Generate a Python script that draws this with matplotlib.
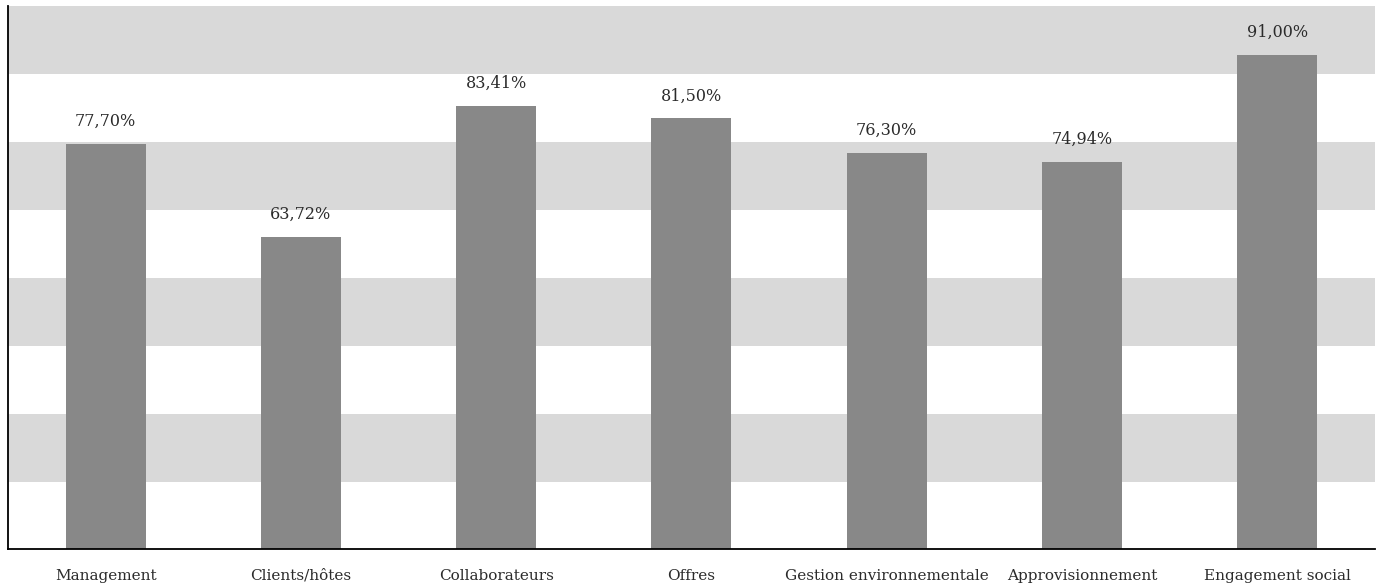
import numpy as np
import matplotlib.pyplot as plt

# scores per axis
categories = ["Management", "Clients/hôtes", "Collaborateurs", "Offres",
              "Gestion environnementale", "Approvisionnement", "Engagement social"]
scores = [77.70, 63.72, 83.41, 81.50, 76.30, 74.94, 91.00]

ymin, ymax = 16.9, 98.35
bar_color = "#888888"
band_color = "#d9d9d9"
text_color = "#2b2b2b"

plt.rcParams['font.family'] = ['DejaVu Serif']

fig = plt.figure(figsize=(13.79, 5.86), dpi=100)
ax = fig.add_axes([0.0058, 0.0623, 0.9912, 0.9275])

# alternating horizontal bands, grey on top
edges = np.linspace(ymin, ymax, 9)
for i in range(8):
    if i % 2 == 1:
        ax.axhspan(edges[i], edges[i + 1], color=band_color, lw=0, zorder=0)

x = np.arange(len(categories))
bars = ax.bar(x, scores, width=0.41, color=bar_color, zorder=2, bottom=0)

for xi, v in zip(x, scores):
    lbl = f"{v:.2f}".replace(".", ",") + "%"
    ax.annotate(lbl, (xi, v), xytext=(0, 10), textcoords="offset points",
                ha="center", va="bottom", fontsize=11.5, color=text_color)

ax.set_xlim(-0.5, len(categories) - 0.5)
ax.set_ylim(ymin, ymax)
ax.set_xticks(x)
ax.set_xticklabels(categories, fontsize=11, color=text_color)
ax.tick_params(axis="x", length=0, pad=14)
ax.set_yticks([])

for s in ["top", "right"]:
    ax.spines[s].set_visible(False)
for s in ["left", "bottom"]:
    ax.spines[s].set_linewidth(1.3)
    ax.spines[s].set_color("black")

fig.savefig("out.png", dpi=100)
